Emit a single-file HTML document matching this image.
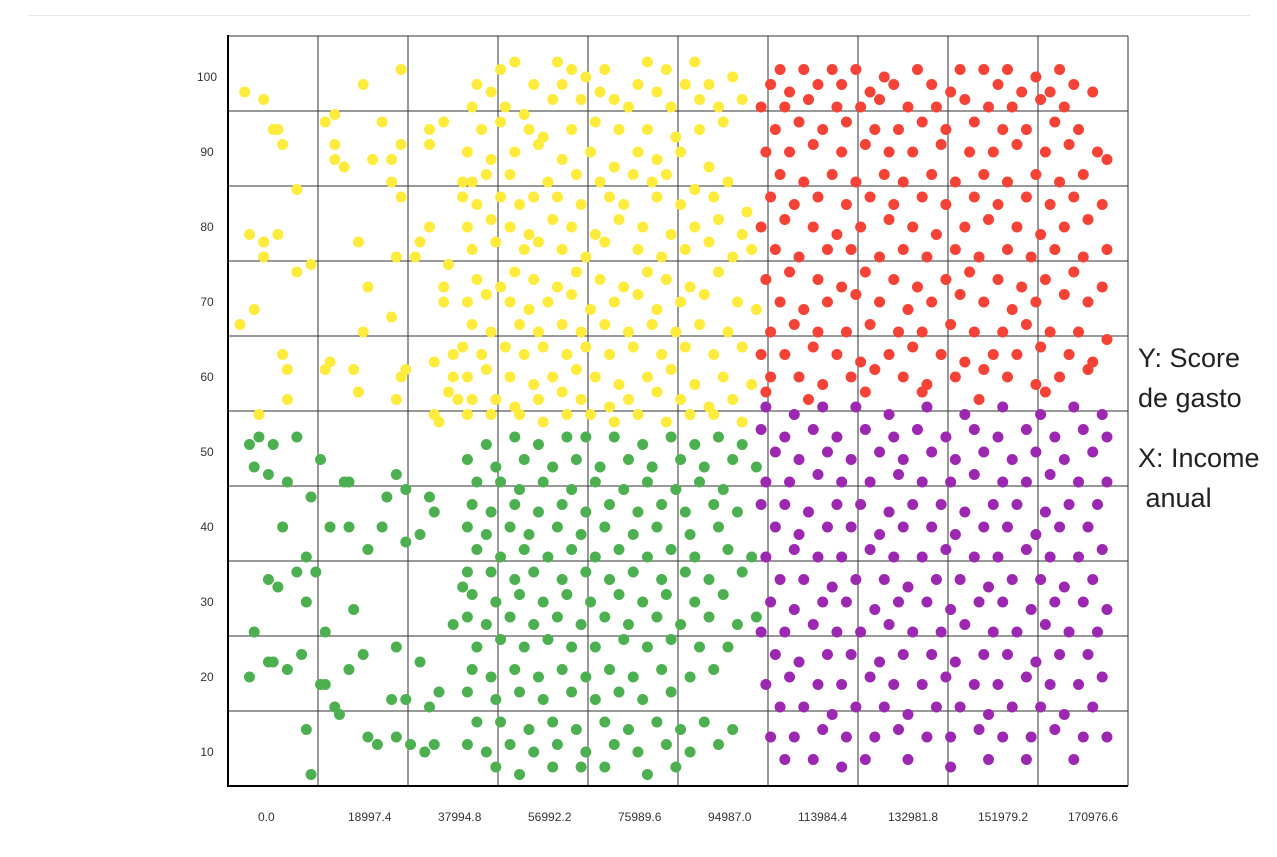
<!DOCTYPE html>
<html><head><meta charset="utf-8">
<style>
html,body{margin:0;padding:0;background:#fff;}
body{width:1277px;height:857px;overflow:hidden;position:relative;font-family:"Liberation Sans",sans-serif;}
.lbl{position:absolute;left:1138px;font-size:27px;color:#222;line-height:40px;}
</style></head>
<body>
<div style="position:absolute;left:28px;top:15px;width:1222px;height:1px;background:#e6e6e6"></div>
<svg id="chart" width="1277" height="857" style="position:absolute;left:0;top:0"></svg>
<div class="lbl" style="top:338px">Y: Score<br>de gasto</div>
<div class="lbl" style="top:438px">X: Income<br>&nbsp;anual</div>
<script>
const xTicks=[0.0,18997.4,37994.8,56992.2,75989.6,94987.0,113984.4,132981.8,151979.2,170976.6];
const yTicks=[10,20,30,40,50,60,70,80,90,100];
const colors={yellow:"#ffeb3b",green:"#4caf50",red:"#f44336",purple:"#9c27b0"};
const yellowPts=[[1,98],[5,97],[7,93],[8,93],[9,91],[12,85],[2,79],[5,78],[5,76],[8,79],[15,75],[12,74],[0,67],[3,69],[9,63],[10,61],[10,57],[4,55],[20,91],[26,99],[34,101],[20,89],[22,88],[18,94],[20,95],[28,89],[32,89],[30,94],[34,91],[32,86],[34,84],[25,78],[33,76],[27,72],[32,68],[26,66],[19,62],[18,61],[24,61],[25,58],[34,60],[35,61],[33,57],[40,93],[43,94],[40,91],[37,76],[38,78],[40,80],[43,72],[44,75],[43,70],[41,62],[44,58],[41,55],[42,54],[45,60],[47,84],[45,63],[46,57],[47,86],
[55,101],[58,102],[67,102],[70,101],[77,101],[86,102],[90,101],[96,102],
[50,99],[53,98],[62,99],[68,99],[73,100],[76,98],[84,99],[88,98],[94,99],[99,99],[104,100],
[49,96],[56,96],[60,95],[66,97],[72,97],[79,97],[82,96],[91,96],[97,97],[101,96],[106,97],
[51,93],[55,94],[61,93],[64,92],[70,93],[75,94],[80,93],[86,93],[92,92],[97,93],[102,94],
[48,90],[53,89],[58,90],[63,91],[68,89],[74,90],[79,88],[84,90],[88,89],[93,90],[99,88],
[49,86],[52,87],[57,87],[65,86],[71,87],[76,86],[83,87],[87,86],[90,87],[96,85],[103,86],
[47,84],[50,83],[55,84],[59,83],[62,84],[67,84],[72,83],[78,84],[81,83],[88,84],[93,83],[100,84],[107,82],
[48,80],[53,81],[57,80],[61,79],[66,81],[70,80],[75,79],[80,81],[85,80],[91,79],[96,80],[101,81],[106,79],
[49,77],[54,78],[60,77],[63,78],[68,77],[73,76],[77,78],[84,77],[89,76],[94,77],[99,78],[104,76],[108,77],
[50,73],[55,72],[58,74],[62,73],[67,72],[71,74],[76,73],[81,72],[86,74],[90,73],[95,72],[101,74],
[48,70],[52,71],[57,70],[61,69],[65,70],[70,71],[74,69],[79,70],[84,71],[88,69],[93,70],[98,71],[105,70],[109,69],
[49,67],[53,66],[59,67],[63,66],[68,67],[72,66],[77,67],[82,66],[87,67],[92,66],[97,67],[103,66],
[47,64],[51,63],[56,64],[60,63],[64,64],[69,63],[73,64],[78,63],[83,64],[89,63],[94,64],[100,63],[106,64],
[48,60],[52,61],[57,60],[62,59],[66,60],[71,61],[75,60],[80,59],[86,60],[91,61],[96,59],[102,60],[108,59],
[49,57],[54,57],[58,56],[63,57],[68,58],[72,57],[78,56],[82,57],[88,58],[93,57],[99,56],[104,57],
[48,55],[53,55],[59,55],[64,54],[69,55],[74,55],[79,54],[84,55],[90,54],[95,55],[100,55],[106,54]];
const greenPts=[[2,51],[4,52],[7,51],[12,52],[3,48],[10,46],[6,47],[9,40],[17,49],[22,46],[23,46],[31,44],[35,45],[33,47],[15,44],[14,36],[19,40],[23,40],[27,37],[30,40],[38,39],[35,38],[40,44],[41,42],[6,33],[8,32],[12,34],[16,34],[14,30],[3,26],[18,26],[24,29],[6,22],[7,22],[10,21],[13,23],[2,20],[17,19],[18,19],[23,21],[26,23],[33,24],[38,22],[35,17],[20,16],[21,15],[32,17],[40,16],[42,18],[14,13],[27,12],[29,11],[33,12],[36,11],[39,10],[41,11],[15,7],[47,32],[45,27],
[52,51],[58,52],[63,51],[69,52],[73,52],[79,52],[85,51],[91,52],[96,51],[101,52],[106,51],
[48,49],[54,48],[60,49],[66,48],[71,49],[76,48],[82,49],[87,48],[93,49],[98,48],[104,49],[109,48],
[50,46],[55,46],[59,45],[64,46],[70,45],[75,46],[81,45],[86,46],[92,45],[97,46],[102,45],
[49,43],[53,42],[58,43],[63,42],[68,43],[73,42],[78,43],[84,42],[89,43],[94,42],[100,43],[105,42],
[48,40],[52,39],[57,40],[61,39],[67,40],[72,39],[77,40],[83,39],[88,40],[95,39],[101,40],
[50,37],[55,36],[60,37],[65,36],[70,37],[75,36],[80,37],[86,36],[91,37],[96,36],[103,37],[108,36],
[48,34],[53,34],[58,33],[62,34],[68,33],[73,34],[78,33],[83,34],[89,33],[94,34],[99,33],[106,34],
[49,31],[54,30],[59,31],[64,30],[69,31],[74,30],[80,31],[85,30],[90,31],[96,30],[102,31],
[48,28],[52,27],[57,28],[62,27],[67,28],[72,27],[77,28],[82,27],[88,28],[93,27],[99,28],[105,27],[109,28],
[50,24],[55,25],[60,24],[65,25],[70,24],[75,24],[81,25],[86,24],[91,25],[97,24],[103,24],
[49,21],[53,20],[58,21],[63,20],[68,21],[73,20],[78,21],[83,20],[89,21],[95,20],[100,21],
[48,18],[54,17],[59,18],[64,17],[70,18],[75,17],[80,18],[85,17],[91,18],
[50,14],[55,14],[61,13],[66,14],[71,13],[77,14],[82,13],[88,14],[93,13],[98,14],[104,13],
[48,11],[52,10],[57,11],[62,10],[67,11],[73,10],[79,11],[84,10],[90,11],[95,10],[101,11],
[54,8],[59,7],[66,8],[72,8],[77,8],[86,7],[92,8]];
const redPts=[[114,101],[119,101],[125,101],[130,101],[136,100],[143,101],[152,101],[157,101],[162,101],[168,100],[173,101],
[112,99],[116,98],[122,99],[127,99],[133,98],[138,99],[146,99],[150,98],[160,99],[165,98],[171,98],[176,99],[180,98],
[110,96],[115,96],[120,97],[126,96],[131,96],[135,97],[141,96],[147,96],[153,97],[158,96],[163,96],[169,97],[174,96],
[113,93],[118,94],[123,93],[128,94],[134,93],[139,93],[144,94],[149,93],[155,94],[161,93],[166,93],[172,94],[177,93],
[111,90],[116,90],[121,91],[127,90],[132,91],[137,90],[142,90],[148,91],[154,90],[159,90],[164,91],[170,90],[175,91],[181,90],[183,89],
[114,87],[119,86],[125,87],[130,86],[136,87],[140,86],[146,87],[151,86],[157,87],[162,86],[168,87],[173,86],[178,87],
[112,84],[117,83],[122,84],[128,83],[133,84],[138,83],[144,84],[149,83],[155,84],[160,83],[166,84],[171,83],[176,84],[182,83],
[110,80],[115,81],[121,80],[126,79],[131,80],[137,81],[142,80],[147,79],[153,80],[158,81],[164,80],[169,79],[174,80],[179,81],
[113,77],[118,76],[124,77],[129,77],[135,76],[140,77],[145,76],[151,77],[156,76],[162,77],[167,76],[172,77],[178,76],[183,77],
[111,73],[116,74],[122,73],[127,72],[132,74],[138,73],[143,72],[149,73],[154,74],[160,73],[165,72],[170,73],[176,74],[182,72],
[114,70],[119,69],[124,70],[130,71],[135,70],[141,69],[146,70],[152,71],[157,70],[163,69],[168,70],[174,71],[179,70],
[112,66],[117,67],[122,66],[128,66],[133,67],[139,66],[144,66],[150,67],[155,66],[161,66],[166,67],[171,66],[177,66],[183,65],
[110,63],[115,63],[121,64],[126,63],[131,62],[137,63],[142,64],[148,63],[153,62],[159,63],[164,63],[169,64],[175,63],[180,62],
[112,60],[118,60],[123,59],[129,60],[134,61],[140,60],[145,59],[151,60],[157,61],[162,60],[168,59],[173,60],[179,61],
[111,58],[120,57],[132,58],[144,58],[156,57],[170,58]];
const purplePts=[[111,56],[117,55],[123,56],[130,56],[137,55],[145,56],[153,55],[161,56],[169,55],[176,56],[182,55],
[110,53],[115,52],[121,53],[126,52],[132,53],[138,52],[143,53],[149,52],[155,53],[160,52],[166,53],[172,52],[178,53],[183,52],
[113,50],[118,49],[124,50],[129,49],[135,50],[140,49],[146,50],[151,49],[157,50],[163,49],[168,50],[174,49],[180,50],
[111,46],[116,46],[122,47],[127,46],[133,46],[139,47],[144,46],[150,46],[155,47],[161,46],[166,46],[171,47],[177,46],[183,46],
[110,43],[115,43],[120,42],[126,43],[131,43],[137,42],[142,43],[148,43],[153,42],[159,43],[164,43],[170,42],[175,43],[181,43],
[113,40],[118,39],[124,40],[129,40],[135,39],[140,40],[146,40],[151,39],[157,40],[162,40],[168,39],[173,40],[179,40],
[111,36],[117,37],[122,36],[127,36],[133,37],[138,36],[144,36],[149,37],[155,36],[160,36],[166,37],[171,36],[177,36],[182,37],
[114,33],[119,33],[125,32],[130,33],[136,33],[141,32],[147,33],[152,33],[158,32],[163,33],[169,33],[174,32],[180,33],
[112,30],[117,29],[123,30],[128,30],[134,29],[139,30],[145,30],[150,29],[156,30],[161,30],[167,29],[172,30],[178,30],[183,29],
[110,26],[115,26],[121,27],[126,26],[131,26],[137,27],[142,26],[148,26],[153,27],[159,26],[164,26],[170,27],[175,26],[181,26],
[113,23],[118,22],[124,23],[129,23],[135,22],[140,23],[146,23],[151,22],[157,23],[162,23],[168,22],[173,23],[179,23],
[111,19],[116,20],[122,19],[127,19],[133,20],[138,19],[144,19],[149,20],[155,19],[160,19],[166,20],[171,19],[177,19],[182,20],
[114,16],[119,16],[125,15],[130,16],[136,16],[141,15],[147,16],[152,16],[158,15],[163,16],[169,16],[174,15],[180,16],
[112,12],[117,12],[123,13],[128,12],[134,12],[139,13],[145,12],[150,12],[156,13],[161,12],[167,12],[172,13],[178,12],[183,12],
[115,9],[121,9],[127,8],[132,9],[141,9],[150,8],[158,9],[166,9],[176,9]];

const NS="http://www.w3.org/2000/svg";
const svg=document.getElementById('chart');
function xScale(k){return 240+k*1000*90/18997.4;}
function yScale(v){return 77+(100-v)*7.5;}
function mk(tag,attrs){const e=document.createElementNS(NS,tag);for(const k in attrs)e.setAttribute(k,attrs[k]);svg.appendChild(e);return e;}
for(let i=0;i<=10;i++){
  const x=228+i*90;
  const l=mk('line',{x1:x,y1:36,x2:x,y2:786,stroke:'#333','stroke-width':1});
  
  
}
for(let i=0;i<=10;i++){
  const y=36+i*75;
  const l=mk('line',{x1:228,y1:y,x2:1128,y2:y,stroke:'#333','stroke-width':1});
  
  
}
const ax=mk('line',{x1:228,y1:35,x2:228,y2:787,stroke:'#000','stroke-width':2});


const bx=mk('line',{x1:227,y1:786,x2:1128,y2:786,stroke:'#000','stroke-width':2});


yTicks.forEach(v=>{
  const t=mk('text',{x:207,y:yScale(v)+4,'text-anchor':'middle','font-size':12,fill:'#333','font-family':'Liberation Sans, sans-serif'});
  t.textContent=String(v);
  
  
});
xTicks.forEach((v,i)=>{
  const t=mk('text',{x:258+i*90,y:821,'font-size':12,fill:'#333','font-family':'Liberation Sans, sans-serif'});
  t.textContent=v.toFixed(1);
  
  
});
function draw(pts,color,name){
  pts.forEach(p=>{
    const c=mk('circle',{cx:xScale(p[0]),cy:yScale(p[1]),r:5.5,fill:color});
    
    
  });
}
draw(yellowPts,colors.yellow,'point-yellow-cluster');
draw(greenPts,colors.green,'point-green-cluster');
draw(redPts,colors.red,'point-red-cluster');
draw(purplePts,colors.purple,'point-purple-cluster');
</script>
</body></html>
